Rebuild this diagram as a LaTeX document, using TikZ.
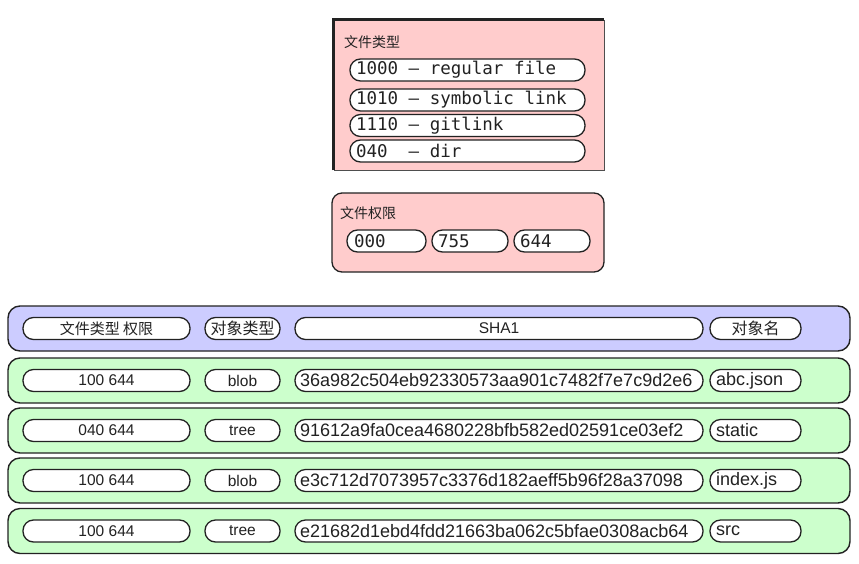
\documentclass[tikz,border=0pt]{standalone}
\usepackage{fontspec}
\setmainfont{Liberation Sans}
\setmonofont{DejaVu Sans Mono}
\newfontfamily\cjk{Noto Sans CJK SC}
\newcommand\msp{\hspace*{0.602em}}
\definecolor{pinkbg}{HTML}{FFCCCC}
\definecolor{bluebg}{HTML}{CCCCFF}
\definecolor{greenbg}{HTML}{CCFFCC}
\definecolor{edge}{HTML}{222222}
\definecolor{txt}{HTML}{222222}
\tikzset{
  pill/.style={draw=edge, fill=white, line width=1.3pt, rounded corners=10.5pt,
    minimum height=22pt, inner ysep=0pt, inner xsep=6pt, text=txt},
  pillc/.style={pill, minimum width=#1, align=center},
  pilll/.style={pill, text width=#1, align=left},
  rowbox/.style={draw=edge, line width=1.4pt, rounded corners=12pt,
    minimum width=842pt, minimum height=45pt, inner sep=0pt},
  monotxt/.style={font=\ttfamily\fontsize{17.5}{20}\selectfont},
  hashtxt/.style={font=\fontsize{18}{20}\selectfont},
  smalltxt/.style={font=\fontsize{15.5}{18}\selectfont},
  cjktxt/.style={font=\cjk\fontsize{15}{18}\selectfont},
  titletxt/.style={font=\cjk\fontsize{14}{16}\selectfont, text=txt, inner sep=0pt, anchor=west},
}
\begin{document}
\begin{tikzpicture}[x=1pt,y=-1pt]
\useasboundingbox (0,0) rectangle (859,563);

% ---- file type box
\node[draw=edge!80, line width=0.9pt, fill=pinkbg, minimum width=270pt, minimum height=150pt, inner sep=0pt] (tb) at (469,95) {};
\draw[line width=2.6pt, edge] (tb.south west) -- (tb.north west) -- (tb.north east);
\node[titletxt] (tbt) at (344,42) {文件类型};
\node[pilll=223pt, monotxt] (t1) at (467.5,70) {1000\msp–\msp regular\msp file};
\node[pilll=223pt, monotxt] (t2) at (467.5,100) {1010\msp–\msp symbolic\msp link};
\node[pilll=223pt, monotxt] (t3) at (467.5,125.5) {1110\msp–\msp gitlink};
\node[pilll=223pt, monotxt] (t4) at (467.5,151) {040\msp\msp–\msp dir};

% ---- permission box
\node[draw=edge, line width=1.3pt, fill=pinkbg, rounded corners=10pt, minimum width=272pt, minimum height=79pt, inner sep=0pt] (pb) at (468,232.5) {};
\node[titletxt] (pbt) at (340,213) {文件权限};
\node[pilll=65pt, monotxt, inner xsep=7pt] (p1) at (386.5,241) {000};
\node[pilll=64pt, monotxt] (p2) at (470,241) {755};
\node[pilll=64pt, monotxt] (p3) at (552,241) {644};

% ---- header row
\node[rowbox, fill=bluebg] (hr) at (429,328.5) {};
\node[pillc=167pt, cjktxt] (h1) at (106.5,328.5) {文件类型 权限};
\node[pillc=75pt, font=\cjk\fontsize{16}{18}\selectfont, inner xsep=1pt] (h2) at (242.5,328.5) {对象类型};
\node[pillc=408pt, smalltxt] (h3) at (499,328.5) {SHA1};
\node[pillc=91pt, font=\cjk\fontsize{16}{18}\selectfont] (h4) at (755.5,328.5) {对象名};

% ---- data rows
\foreach \i/\y/\perm/\typ/\sha/\nm in {
  1/380.5/100 644/blob/36a982c504eb92330573aa901c7482f7e7c9d2e6/abc.json,
  2/430.5/040 644/tree/91612a9fa0cea4680228bfb582ed02591ce03ef2/static,
  3/480.5/100 644/blob/e3c712d7073957c3376d182aeff5b96f28a37098/index.js,
  4/531/100 644/tree/e21682d1ebd4fdd21663ba062c5bfae0308acb64/src}{
  \node[rowbox, fill=greenbg] (r\i) at (429,\y) {};
  \node[pillc=167pt, smalltxt] (r\i a) at (106.5,\y) {\perm};
  \node[pillc=75pt, smalltxt] (r\i b) at (242.5,\y) {\typ};
  \node[pilll=398pt, hashtxt, inner xsep=5pt] (r\i c) at (499,\y) {\sha};
  \node[pilll=79pt, hashtxt] (r\i d) at (755.5,\y) {\nm};
}
\end{tikzpicture}
\end{document}
